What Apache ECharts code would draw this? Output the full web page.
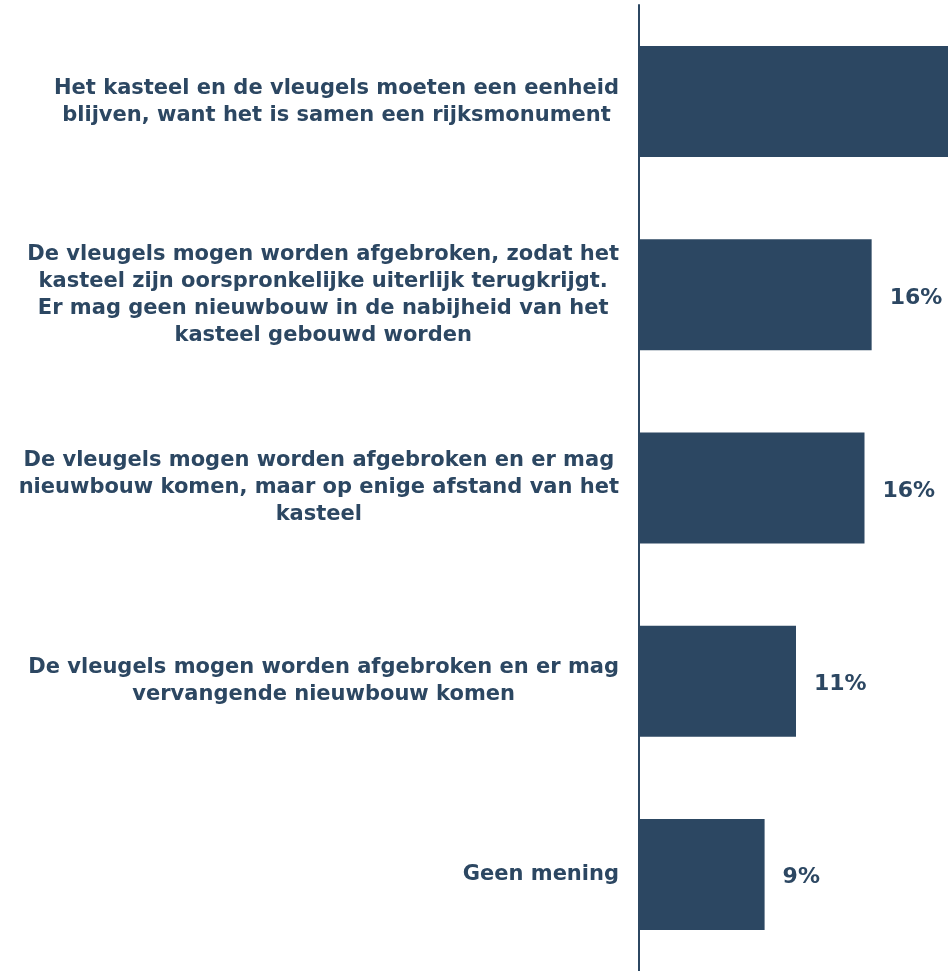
<!DOCTYPE html>
<html>
<head>
<meta charset="utf-8">
<script src="https://cdn.jsdelivr.net/npm/echarts@6/dist/echarts.min.js"></script>
<style>html,body{margin:0;padding:0;background:#fff;}#chart{width:948px;height:971px;}</style>
</head>
<body>
<div id="chart"></div>
<script>
const categories = [
  "Het kasteel en de vleugels moeten een eenheid\nblijven, want het is samen een rijksmonument",
  "De vleugels mogen worden afgebroken, zodat het\nkasteel zijn oorspronkelijke uiterlijk terugkrijgt.\nEr mag geen nieuwbouw in de nabijheid van het\nkasteel gebouwd worden",
  "De vleugels mogen worden afgebroken en er mag\nnieuwbouw komen, maar op enige afstand van het\nkasteel",
  "De vleugels mogen worden afgebroken en er mag\nvervangende nieuwbouw komen",
  "Geen mening"
];
const values = [48.1, 16.3, 15.8, 11.0, 8.8];

const color = '#2c4762';
const chart = echarts.init(document.getElementById('chart'));
chart.setOption({
  animation: false,
  grid: { left: 639, top: 5, right: 0, height: 968, containLabel: false },
  xAxis: {
    type: 'value', min: 0, max: 21.65,
    show: false
  },
  yAxis: {
    type: 'category', data: categories, inverse: true,
    axisLine: { show: true, lineStyle: { color: color, width: 2 } },
    axisTick: { show: false },
    axisLabel: {
      margin: 20,
      formatter: function (v) {
        return v.split('\n').map(function (l) { return '{c|' + l + '}'; }).join('\n');
      },
      rich: {
        c: { align: 'center', fontFamily: 'DejaVu Sans', fontWeight: 'bold', fontSize: 21, lineHeight: 27, color: color }
      }
    }
  },
  series: [{
    type: 'bar', data: values, barWidth: 111,
    itemStyle: { color: color },
    label: {
      show: true, position: 'right', distance: 18, offset: [0, 3],
      formatter: function (p) { return Math.round(p.value) + '%'; },
      fontFamily: 'DejaVu Sans', fontWeight: 'bold', fontSize: 22, color: color
    }
  }]
});
</script>
</body>
</html>
